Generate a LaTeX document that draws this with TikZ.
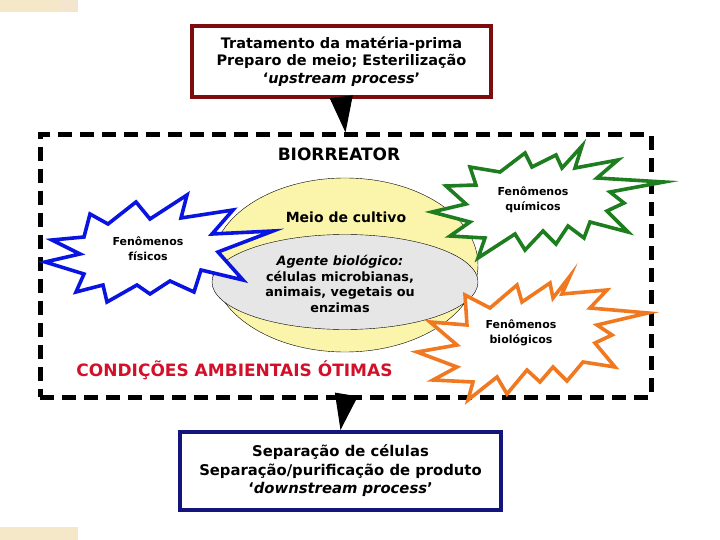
\documentclass[tikz,border=0pt]{standalone}
\usepackage{fontspec}
\setmainfont{DejaVu Sans}
\usepackage{tikz}
\usetikzlibrary{shapes,arrows.meta,positioning}
\usepackage{xcolor}
\definecolor{vinho}{RGB}{125,12,12}
\definecolor{marinho}{RGB}{20,20,125}
\definecolor{azulfis}{RGB}{10,20,225}
\definecolor{verdequi}{RGB}{30,125,30}
\definecolor{laranjabio}{RGB}{240,120,32}
\definecolor{vermelhocond}{RGB}{210,16,42}
\definecolor{amarelomeio}{RGB}{250,245,170}
\definecolor{cinzaagente}{RGB}{230,230,230}
\definecolor{bege}{RGB}{245,232,200}

\begin{document}
\begin{tikzpicture}[x=1pt,y=-1pt,
    caixa/.style={draw,line width=4pt,fill=white,align=center},
    seta/.style={-{Triangle[length=36pt,width=23pt]},line width=1pt},
    estrela/.style={line width=3.6pt,fill=white,line join=miter},
    rotulo/.style={align=center,font=\bfseries\fontsize{11}{15}\selectfont}]
    \useasboundingbox (0,0) rectangle (720,540);
    % faixas decorativas
    \fill[bege] (0,0) rectangle (78,12);
    \fill[bege!80!brown!60] (60,0) rectangle (78,12);
    \fill[bege] (0,527) rectangle (78,540);
    % caixas de entrada e saida
    \node[caixa,draw=vinho,minimum width=299pt,minimum height=71pt,
        font=\bfseries\fontsize{14.5}{17.5}\selectfont] (montante) at (341.5,61.5)
        {Tratamento da matéria-prima\\Preparo de meio; Esterilização\\`\textit{upstream process}'};
    \node[caixa,draw=marinho,minimum width=321pt,minimum height=78pt,
        font=\bfseries\fontsize{14.8}{18.5}\selectfont] (jusante) at (340.5,471)
        {Separação de células\\Separação/purificação de produto\\`\textit{downstream process}'};
    % biorreator
    \node[draw,line width=5pt,dash pattern=on 14pt off 8pt,minimum width=611pt,minimum height=262pt]
        (reator) at (345.5,266) {};
    \node[font=\bfseries\fontsize{17}{20}\selectfont] (titulo) at (339,154) {BIORREATOR};
    \node[ellipse,draw,fill=amarelomeio,minimum width=266pt,minimum height=174pt] (meio) at (345,265) {};
    \node[ellipse,draw,fill=cinzaagente,minimum width=266pt,minimum height=95pt] (agente) at (345,282) {};
    \node[font=\bfseries\fontsize{14}{17}\selectfont] (cultivo) at (346,217) {Meio de cultivo};
    \node[align=center,font=\bfseries\fontsize{12.8}{15.6}\selectfont] (celulas) at (340,284)
        {\textit{Agente biológico:}\\células microbianas,\\animais, vegetais ou\\enzimas};
    % fenomenos
    \draw[estrela,draw=azulfis] (52,240) -- (84,237) -- (90,214) -- (108,224) -- (136,202) -- (150,219)
        -- (187,195) -- (181,218) -- (233,210) -- (212,234) -- (273,231) -- (218,252) -- (243,280)
        -- (201,270) -- (194,292) -- (170,281) -- (150,294) -- (137,285) -- (107,302) -- (103,285)
        -- (76,292) -- (84,274) -- (45,262) -- (80,254) -- cycle;
    \draw[estrela,draw=verdequi] (582,146) -- (575,168) -- (618,160) -- (597,178) -- (664,182) -- (610,192)
        -- (624,203) -- (607,211) -- (628,232) -- (590,222) -- (584,238) -- (568,226) -- (556,244)
        -- (543,231) -- (525,250) -- (515,234) -- (478,258) -- (485,238) -- (450,236) -- (470,222)
        -- (432,212) -- (466,204) -- (446,186) -- (476,185) -- (470,167) -- (500,172) -- (525,153)
        -- (532,167) -- (556,155) -- (562,168) -- cycle;
    \draw[estrela,draw=laranjabio] (570,276) -- (562,294) -- (607,290) -- (590,308) -- (648,313) -- (597,325)
        -- (612,335) -- (595,343) -- (615,367) -- (583,362) -- (567,381) -- (553,367) -- (540,382)
        -- (527,370) -- (507,394) -- (497,377) -- (468,400) -- (473,382) -- (433,380) -- (457,367)
        -- (417,352) -- (457,345) -- (430,322) -- (467,325) -- (465,295) -- (490,308) -- (517,285)
        -- (522,302) -- (550,283) -- (553,298) -- cycle;
    \node[rotulo] (fisicos) at (148,249) {Fenômenos\\físicos};
    \node[rotulo] (quimicos) at (533,200) {Fenômenos\\químicos};
    \node[rotulo] (biologicos) at (521,333) {Fenômenos\\biológicos};
    \node[text=vermelhocond,font=\bfseries\fontsize{17}{20}\selectfont] (condicoes) at (234.5,370)
        {CONDIÇÕES AMBIENTAIS ÓTIMAS};
    % setas
    \draw[seta] (montante.south) -- (reator.north);
    \draw[seta] (reator.south) -- (jusante.north);
\end{tikzpicture}
\end{document}
